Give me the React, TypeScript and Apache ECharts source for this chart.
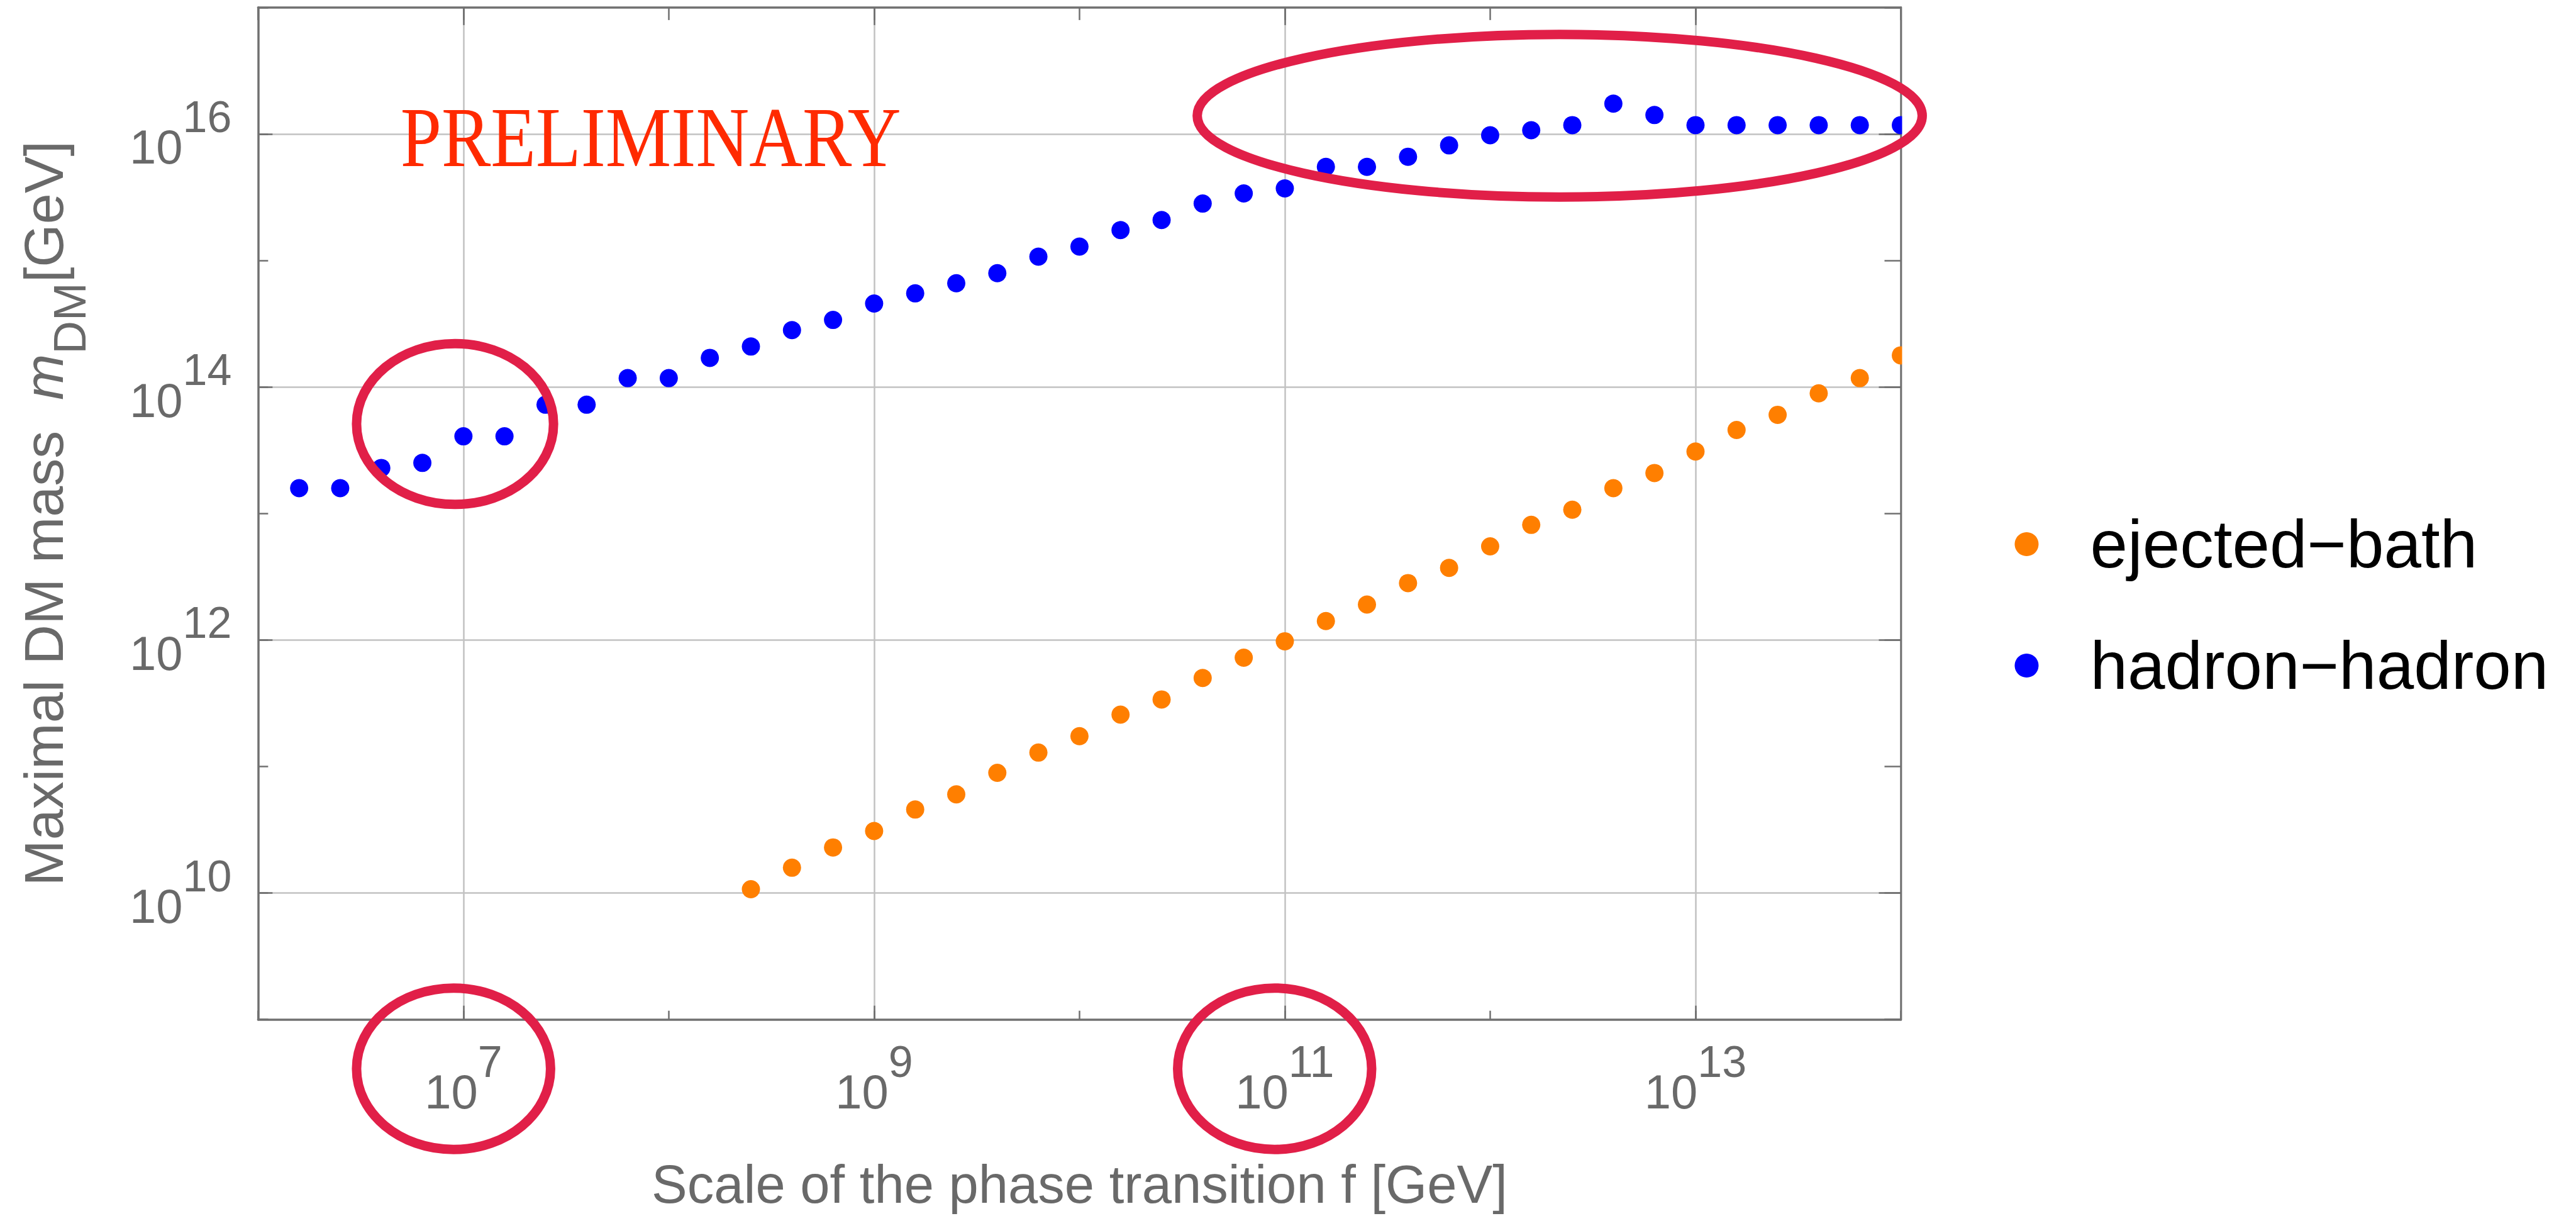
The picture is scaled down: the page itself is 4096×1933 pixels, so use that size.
import React, { useEffect, useRef } from 'react';
import * as echarts from 'echarts';

// ---------- data (log10 values) ----------
const hadronLogF = [
  6.2, 6.4, 6.6, 6.8, 7.0, 7.2, 7.4, 7.6, 7.8, 8.0,
  8.2, 8.4, 8.6, 8.8, 9.0, 9.2, 9.4, 9.6, 9.8, 10.0,
  10.2, 10.4, 10.6, 10.8, 11.0, 11.2, 11.4, 11.6, 11.8, 12.0,
  12.2, 12.4, 12.6, 12.8, 13.0, 13.2, 13.4, 13.6, 13.8, 14.0,
];
const hadronLogMass = [
  13.2, 13.2, 13.36, 13.4, 13.61, 13.61, 13.86, 13.86, 14.07, 14.07,
  14.23, 14.32, 14.45, 14.53, 14.66, 14.74, 14.82, 14.9, 15.03, 15.11,
  15.24, 15.32, 15.45, 15.53, 15.57, 15.74, 15.74, 15.82, 15.91, 15.99,
  16.03, 16.07, 16.24, 16.15, 16.07, 16.07, 16.07, 16.07, 16.07, 16.07,
];
const bathLogF = [
  8.4, 8.6, 8.8, 9.0, 9.2, 9.4, 9.6, 9.8, 10.0, 10.2,
  10.4, 10.6, 10.8, 11.0, 11.2, 11.4, 11.6, 11.8, 12.0, 12.2,
  12.4, 12.6, 12.8, 13.0, 13.2, 13.4, 13.6, 13.8, 14.0,
];
const bathLogMass = [
  10.03, 10.2, 10.36, 10.49, 10.66, 10.78, 10.95, 11.11, 11.24, 11.41,
  11.53, 11.7, 11.86, 11.99, 12.15, 12.28, 12.45, 12.57, 12.74, 12.91,
  13.03, 13.2, 13.32, 13.49, 13.66, 13.78, 13.95, 14.07, 14.25,
];
const xTickExponents = ['6', '7', '8', '9', '10', '11', '12', '13', '14'];
const yTickExponents = ['9', '10', '11', '12', '13', '14', '15', '16', '17'];
const xLabeledExponents = ['7', '9', '11', '13'];
const yLabeledExponents = ['10', '12', '14', '16'];
const seriesNames = ['ejected\u2212bath', 'hadron\u2212hadron'];
const xTitle = 'Scale of the phase transition f [GeV]';

// ---------- layout ----------
const S = 4096 / 4342;
const FONT = '"Liberation Sans", Arial, Helvetica, sans-serif';
const GRID = { left: 435 * S, top: 12.6 * S, width: (3204 - 435) * S, height: (1718 - 12.6) * S };
const FRAME = '#707070';
const LABEL = '#696969';

const frameAxis = (position: string, min: number, max: number, len: number) => ({
  type: 'log',
  logBase: 10,
  gridIndex: 0,
  position,
  min,
  max,
  axisLine: { show: true, lineStyle: { color: FRAME, width: 3.5 } },
  axisTick: { show: true, inside: true, length: len, lineStyle: { color: FRAME, width: 2.5 } },
  axisLabel: { show: false },
  splitLine: { show: false },
  minorTick: { show: false },
});

const supRich = {
  b: { fontSize: 76, lineHeight: 166, color: LABEL, fontFamily: FONT },
  s: { fontSize: 70, lineHeight: 90, verticalAlign: 'top', color: LABEL, fontFamily: FONT },
};
const gridLine = { show: true, lineStyle: { color: '#c2c2c2', width: 2.5 } };

const overlayX = (position: string, withLabel: boolean, len: number) => ({
  type: 'category',
  gridIndex: 1,
  position,
  data: xTickExponents,
  boundaryGap: false,
  axisLine: { show: false },
  axisTick: {
    show: true, inside: true, length: len,
    interval: (_i: number, v: string) => xLabeledExponents.includes(v),
    lineStyle: { color: FRAME, width: 2.5 },
  },
  axisLabel: {
    show: withLabel,
    interval: (_i: number, v: string) => xLabeledExponents.includes(v),
    margin: 32,
    formatter: (v: string) => `{b|10}{s|${v}}`,
    rich: supRich,
  },
  splitLine: withLabel
    ? { ...gridLine, interval: (_i: number, v: string) => xLabeledExponents.includes(v) }
    : { show: false },
});

const overlayY = (position: string, withLabel: boolean, len: number) => ({
  type: 'category',
  gridIndex: 1,
  position,
  data: yTickExponents,
  boundaryGap: false,
  axisLine: { show: false },
  axisTick: {
    show: true, inside: true, length: len,
    interval: (_i: number, v: string) => yLabeledExponents.includes(v),
    lineStyle: { color: FRAME, width: 2.5 },
  },
  axisLabel: {
    show: withLabel,
    interval: (_i: number, v: string) => yLabeledExponents.includes(v),
    margin: 42,
    padding: [42, 0, 0, 0],
    formatter: (v: string) => `{b|10}{s|${v}}`,
    rich: supRich,
  },
  splitLine: withLabel
    ? { ...gridLine, interval: (_i: number, v: string) => yLabeledExponents.includes(v) }
    : { show: false },
});

const ellipse = (cx: number, cy: number, rx: number, ry: number) => ({
  type: 'ellipse',
  z: 30,
  silent: true,
  shape: { cx: cx * S, cy: cy * S, rx: rx * S, ry: ry * S },
  style: { fill: 'none', stroke: '#e11f48', lineWidth: 15 },
});

function buildOption() {
  const xMin = 1e6, xMax = 1e14, yMin = 1e9, yMax = 1e17;
  return {
    animation: false,
    backgroundColor: '#ffffff',
    textStyle: { fontFamily: FONT },
    grid: [
      { ...GRID, containLabel: false, outerBoundsMode: 'none' },
      { ...GRID, containLabel: false, outerBoundsMode: 'none' },
    ],
    xAxis: [
      {
        ...frameAxis('bottom', xMin, xMax, 14),
        name: xTitle,
        nameLocation: 'middle',
        nameGap: 219,
        nameTextStyle: { fontSize: 85, lineHeight: 85, color: LABEL, fontFamily: FONT },
      },
      frameAxis('top', xMin, xMax, 20),
      overlayX('bottom', true, 22),
      overlayX('top', false, 28),
    ],
    yAxis: [
      {
        ...frameAxis('left', yMin, yMax, 16),
        name: '{a|Maximal DM mass  }{i|m}{d|DM}{a|[GeV]}',
        nameLocation: 'middle',
        nameRotate: 90,
        nameGap: 263,
        nameTextStyle: {
          color: LABEL,
          rich: {
            a: { fontSize: 88, lineHeight: 155, color: LABEL, fontFamily: FONT },
            i: { fontSize: 88, lineHeight: 155, fontStyle: 'italic', color: LABEL, fontFamily: FONT },
            d: { fontSize: 73, lineHeight: 95, verticalAlign: 'bottom', color: LABEL, fontFamily: FONT },
          },
        },
      },
      frameAxis('right', yMin, yMax, 26),
      overlayY('left', true, 23),
      overlayY('right', false, 35),
    ],
    legend: {
      orient: 'vertical',
      left: 3416 * S - 19,
      top: 805,
      padding: 0,
      itemWidth: 38,
      itemHeight: 38,
      itemGap: 73,
      icon: 'circle',
      data: seriesNames,
      textStyle: {
        fontSize: 107, lineHeight: 120, color: '#000000', fontFamily: FONT,
        padding: [0, 0, 0, 77],
      },
    },
    series: [
      {
        type: 'scatter',
        name: seriesNames[0],
        xAxisIndex: 0,
        yAxisIndex: 0,
        symbol: 'circle',
        symbolSize: 29,
        itemStyle: { color: '#ff7f00', opacity: 1 },
        data: bathLogF.map((e, i) => [10 ** e, 10 ** bathLogMass[i]]),
      },
      {
        type: 'scatter',
        name: seriesNames[1],
        xAxisIndex: 0,
        yAxisIndex: 0,
        symbol: 'circle',
        symbolSize: 29,
        itemStyle: { color: '#0000ff', opacity: 1 },
        data: hadronLogF.map((e, i) => [10 ** e, 10 ** hadronLogMass[i]]),
      },
    ],
    graphic: [
      {
        type: 'rect',
        z: 10,
        silent: true,
        shape: { x: GRID.left + GRID.width + 2, y: 0, width: 60, height: GRID.top + GRID.height + 30 },
        style: { fill: '#ffffff' },
      },
      {
        type: 'text',
        z: 20,
        silent: true,
        x: 1096.8 * S,
        y: 231.5 * S,
        scaleX: 0.87,
        style: {
          text: 'PRELIMINARY',
          fill: '#ff2a00',
          fontSize: 135,
          fontFamily: '"Liberation Serif", "Times New Roman", serif',
          align: 'center',
          verticalAlign: 'middle',
        },
      },
      ellipse(767, 714.5, 166, 135.5),
      ellipse(764.5, 1801, 163.5, 136),
      ellipse(2148.5, 1801, 163.5, 136),
      ellipse(2629, 195, 611, 137),
    ],
  };
}

export default function App() {
  const ref = useRef<HTMLDivElement>(null);
  useEffect(() => {
    if (!ref.current) return;
    const chart = echarts.init(ref.current, null, { renderer: 'svg' });
    chart.setOption(buildOption() as any);
    return () => chart.dispose();
  }, []);
  return (
    <div
      ref={ref}
      style={{ position: 'fixed', left: 0, top: 0, width: 4096, height: 1933, background: '#ffffff' }}
    />
  );
}
